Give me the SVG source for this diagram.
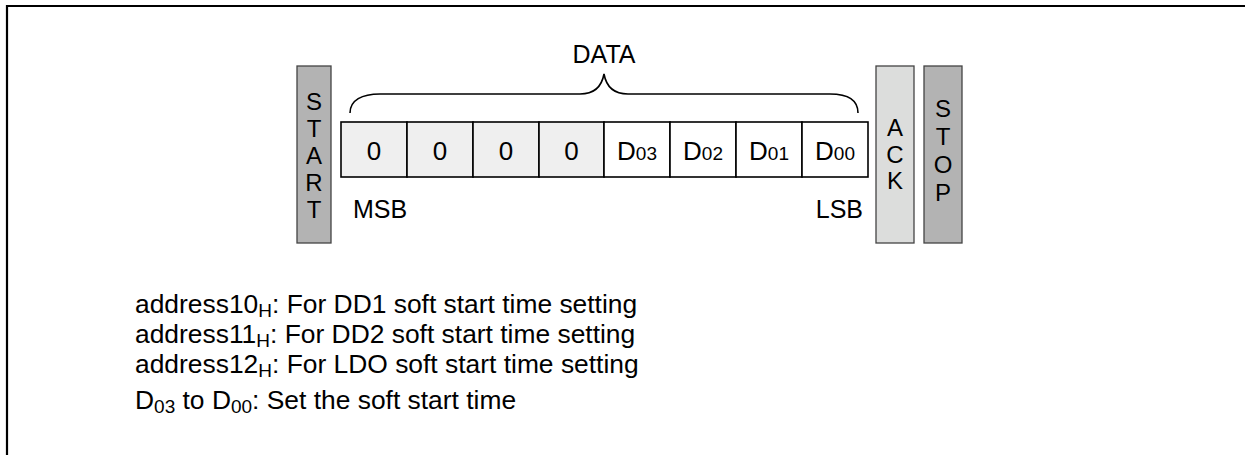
<svg xmlns="http://www.w3.org/2000/svg" width="1245" height="455" viewBox="0 0 1245 455">
<style>
text{font-family:"Liberation Sans",Arial,sans-serif;fill:#000}
.t{font-size:25px}
.v{font-size:24px;text-anchor:middle}
.c{font-size:26px;text-anchor:middle}
.s{font-size:19px}
.b{font-size:26.4px}
.bar{stroke:#444;stroke-width:1.3}
.cell{stroke:#000;stroke-width:1.6}
</style>
<rect width="1245" height="455" fill="#fff"/>
<path d="M7,455 V6 H1245" fill="none" stroke="#000" stroke-width="2.2"/>
<g id="start"><rect class="bar" x="297" y="66" width="34" height="177" fill="#b3b3b3"/>
<text class="v" x="314" y="110">S</text><text class="v" x="314" y="137">T</text><text class="v" x="314" y="164">A</text><text class="v" x="314" y="191">R</text><text class="v" x="314" y="218">T</text></g>
<g id="ack"><rect class="bar" x="876" y="66" width="38" height="177" fill="#dcdddc"/>
<text class="v" x="895" y="136">A</text><text class="v" x="895" y="162.5">C</text><text class="v" x="895" y="189">K</text></g>
<g id="stop"><rect class="bar" x="924" y="66" width="38" height="177" fill="#b3b3b3"/>
<text class="v" x="943" y="117">S</text><text class="v" x="943" y="145">T</text><text class="v" x="943" y="173">O</text><text class="v" x="943" y="201">P</text></g>
<g id="data">
<rect class="cell" x="341" y="122" width="66" height="55" fill="#efefef"/>
<rect class="cell" x="407" y="122" width="66" height="55" fill="#efefef"/>
<rect class="cell" x="473" y="122" width="66" height="55" fill="#efefef"/>
<rect class="cell" x="539" y="122" width="65" height="55" fill="#efefef"/>
<rect class="cell" x="604" y="122" width="66" height="55" fill="#fff"/>
<rect class="cell" x="670" y="122" width="66" height="55" fill="#fff"/>
<rect class="cell" x="736" y="122" width="66" height="55" fill="#fff"/>
<rect class="cell" x="802" y="122" width="66" height="55" fill="#fff"/>
<text class="c" x="374" y="160">0</text><text class="c" x="440" y="160">0</text><text class="c" x="506" y="160">0</text><text class="c" x="571.5" y="160">0</text>
<text class="c" x="637" y="160">D<tspan class="s">03</tspan></text>
<text class="c" x="703" y="160">D<tspan class="s">02</tspan></text>
<text class="c" x="769" y="160">D<tspan class="s">01</tspan></text>
<text class="c" x="835" y="160">D<tspan class="s">00</tspan></text>
<text class="t" x="353" y="218">MSB</text>
<text class="t" x="863" y="218" text-anchor="end">LSB</text>
</g>
<g id="brace">
<path d="M350,113 C350,100 362,94 380,94 H580 C595,94 602,85 604,74 C606,85 613,94 628,94 H830 C848,94 858,100 858,113" fill="none" stroke="#000" stroke-width="1.6"/>
<text class="t" x="604" y="63" text-anchor="middle">DATA</text>
</g>
<g id="notes">
<text class="b" x="135" y="313">address10<tspan class="s" dy="4">H</tspan><tspan dy="-4">: For DD1 soft start time setting</tspan></text>
<text class="b" x="135" y="343">address11<tspan class="s" dy="4">H</tspan><tspan dy="-4">: For DD2 soft start time setting</tspan></text>
<text class="b" x="135" y="373">address12<tspan class="s" dy="4">H</tspan><tspan dy="-4">: For LDO soft start time setting</tspan></text>
<text class="b" x="135" y="409">D<tspan class="s" dy="4">03</tspan><tspan dy="-4"> to D</tspan><tspan class="s" dy="4">00</tspan><tspan dy="-4">: Set the soft start time</tspan></text>
</g>
</svg>
